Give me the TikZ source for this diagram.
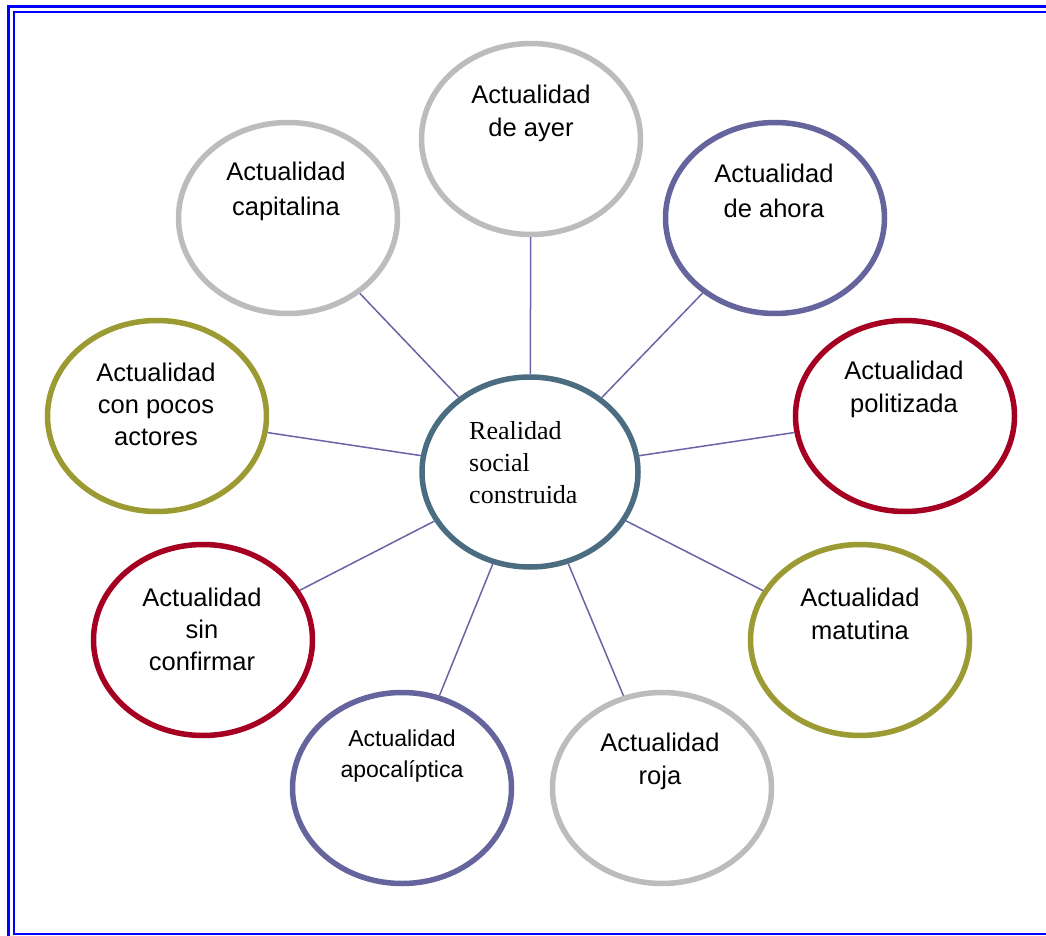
\documentclass[tikz,border=0pt]{standalone}
\usepackage{fontspec}
\setmainfont{Liberation Sans}
\newfontfamily\serifface{Liberation Serif}
\usetikzlibrary{shapes.geometric}
\definecolor{framebl}{HTML}{0000FF}
\definecolor{cgray}{HTML}{BCBCBC}
\definecolor{cpurple}{HTML}{65649C}
\definecolor{ccrimson}{HTML}{A50021}
\definecolor{colive}{HTML}{9B9A33}
\definecolor{csteel}{HTML}{4B6C81}
\definecolor{clink}{HTML}{6A64A4}
\tikzset{
  bubble/.style={ellipse, draw, line width=5.5pt, fill=white, minimum width=219pt, minimum height=191pt, inner sep=0pt},
  hub/.style={ellipse, draw=csteel, line width=5.5pt, fill=white, minimum width=216pt, minimum height=190pt, inner sep=0pt},
  label/.style={align=center, font=\fontsize{25.5}{33}\selectfont, inner sep=0pt},
  link/.style={draw=clink, line width=1.5pt},
}
\begin{document}
\begin{tikzpicture}[x=1pt,y=-1pt]
\useasboundingbox (0,0) rectangle (1046,936);
% frame
\draw[framebl, line width=3.5pt] (8.5,6) -- (8.5,936);
\draw[framebl, line width=3.5pt] (6.75,6.5) -- (1046,6.5);
\draw[framebl, line width=2pt] (13.5,12) -- (13.5,935);
\draw[framebl, line width=2pt] (12.5,12.5) -- (1046,12.5);
\draw[framebl, line width=2pt] (12.5,934) -- (1046,934);
% bubbles
\node[hub] (hub) at (530,472) {};
\node[bubble, draw=cgray] (ayer) at (531,139) {};
\node[bubble, draw=cgray] (capit) at (288,218) {};
\node[bubble, draw=cpurple] (ahora) at (775,218) {};
\node[bubble, draw=ccrimson] (polit) at (905,416) {};
\node[bubble, draw=colive] (pocos) at (157,416) {};
\node[bubble, draw=ccrimson] (sinconf) at (203,640) {};
\node[bubble, draw=colive] (matut) at (860,640) {};
\node[bubble, draw=cpurple] (apoc) at (402,788) {};
\node[bubble, draw=cgray] (roja) at (662,788) {};
% connectors
\foreach \n in {ayer,capit,ahora,polit,pocos,sinconf,matut,apoc,roja}
  \path[link] (hub) -- (\n);
% texts
\node[label] (tayer) at (531,113) {Actualidad\\de ayer};
\node[label, font=\fontsize{25.5}{35}\selectfont] (tcapit) at (286,191) {Actualidad\\capitalina};
\node[label, font=\fontsize{25.5}{35}\selectfont] (tahora) at (774,191) {Actualidad\\de ahora};
\node[label] (tpolit) at (904,389) {Actualidad\\politizada};
\node[label, font=\fontsize{25.5}{32}\selectfont] (tpocos) at (156,404) {Actualidad\\con pocos\\actores};
\node[label, font=\fontsize{25.5}{32}\selectfont] (tsin) at (202,629) {Actualidad\\sin\\confirmar};
\node[label] (tmatut) at (860,614) {Actualidad\\matutina};
\node[label, font=\fontsize{23}{31}\selectfont] (tapoc) at (402,756) {Actualidad\\apocalíptica};
\node[label] (troja) at (660,761) {Actualidad\\roja};
\node[align=left, anchor=west, inner sep=0pt, font=\serifface\fontsize{26}{32}\selectfont] (thub) at (469,463) {Realidad\\social\\construida};
\end{tikzpicture}
\end{document}
